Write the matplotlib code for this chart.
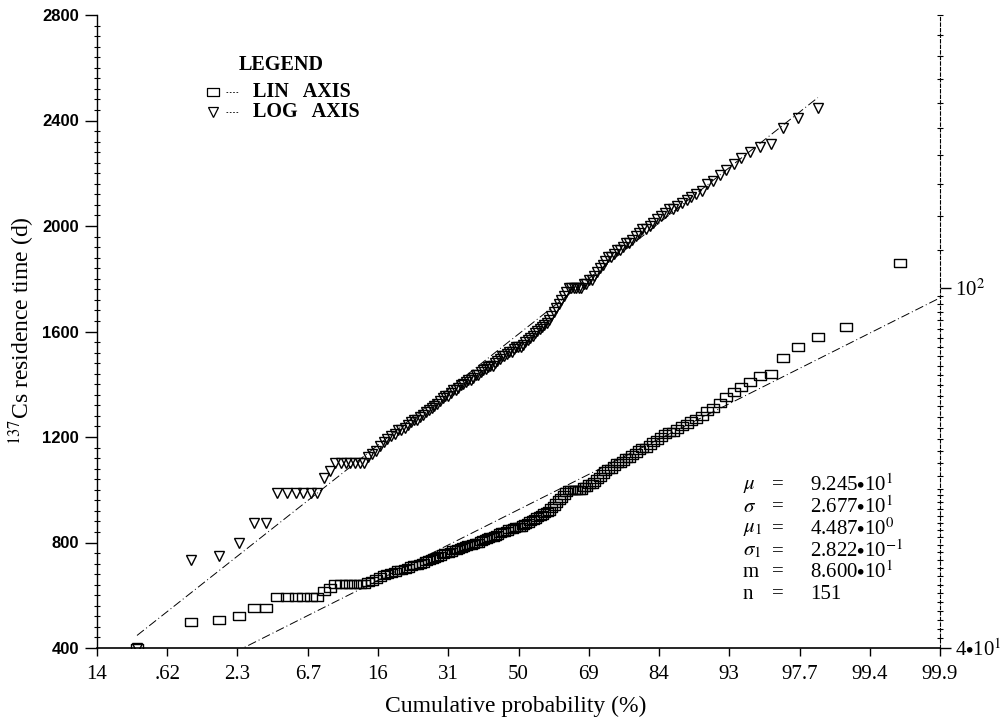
from statistics import NormalDist
import numpy as np
import matplotlib
matplotlib.use("Agg")
import matplotlib.pyplot as plt

plt.rcParams["font.family"] = ["Liberation Serif", "DejaVu Serif"]
plt.rcParams["mathtext.fontset"] = "stix"

# sorted residence times (same sample on both axes)
residence = [
    40.0, 50.0, 50.6, 52.2, 55.0, 55.0,
    59.3, 59.3, 59.3, 59.3, 59.3, 59.3, 61.7, 62.8,
    64.1, 64.1, 64.1, 64.1, 64.1, 64.1, 64.1,
    65.0, 65.5, 66.0, 66.8, 67.5, 68.0, 68.5, 69.0, 69.6, 69.6,
    70.0, 70.5, 71.0, 71.4, 71.4,
    72.0, 72.4, 72.8, 73.2, 73.6, 74.0, 74.4, 75.0, 75.5,
    76.0, 76.0, 76.5, 77.0, 77.0, 77.5, 78.0,
    78.3, 78.6, 79.0, 79.0, 79.5, 80.0, 80.0, 80.6,
    81.0, 81.4, 81.8, 82.0, 82.0, 82.6, 83.0,
    83.5, 84.0, 84.0, 84.5, 85.0, 85.0, 85.6,
    86.0, 86.0, 86.0, 86.5, 87.0, 87.5, 88.0, 88.4,
    89.0, 89.5, 90.0, 90.5, 91.0, 91.5,
    92.0, 93.0, 94.0, 95.0, 96.0, 97.0, 98.0, 99.0,
    100.0, 100.0, 100.0, 100.0, 100.0, 100.0, 101.0, 101.0, 102.0, 102.0,
    103.0, 104.0, 105.0, 106.0,
    107.0, 108.0, 108.0, 109.0, 110.0, 110.0, 111.0, 112.0, 112.0, 113.0, 114.0,
    115.0, 116.0, 116.0, 117.0, 118.0, 119.0, 120.0,
    121.0, 122.0, 122.0, 123.0, 124.0, 125.0, 126.0, 127.0, 128.0,
    130.0, 131.0, 133.0, 135.0, 137.0, 139.0, 141.0,
    143.0, 144.0, 150.0, 154.0, 158.0, 161.7, 185.9,
]
LOG_SHOWN = 149  # the two largest values are not drawn on the log axis

# fitted parameters printed on the chart
MU, SIGMA = 92.45, 26.77
MU1, SIGMA1 = 4.487, 0.2822

# probability ticks (labelled as in the original) sit at every half sigma
z_ticks = [-3, -2.5, -2, -1.5, -1, -0.5, 0, 0.5, 1, 1.5, 2, 2.5, 3]
x_labels = ["14", ".62", "2.3", "6.7", "16", "31", "50", "69", "84", "93",
            "97.7", "99.4", "99.9"]
lin_ticks = [40, 80, 120, 160, 200, 240, 280]
lin_labels = ["400", "800", "1200", "1600", "2000", "2400", "2800"]
log_ticks = [40, 100]
log_labels = [r"4$\bullet$10$^{1}$", r"10$^{2}$"]

stats = [
    (r"$\mu$", r"9.245$\bullet$10$^{1}$"),
    (r"$\sigma$", r"2.677$\bullet$10$^{1}$"),
    (r"$\mu_{1}$", r"4.487$\bullet$10$^{0}$"),
    (r"$\sigma_{1}$", r"2.822$\bullet$10$^{-1}$"),
    ("m", r"8.600$\bullet$10$^{1}$"),
    ("n", "151"),
]

ND = NormalDist()
_ppf = np.vectorize(lambda p: ND.inv_cdf(min(max(p, 1e-9), 1 - 1e-9)), otypes=[float])
_cdf = np.vectorize(ND.cdf, otypes=[float])


def to_z(pct):
    return _ppf(np.asarray(pct, dtype=float) / 100.0)


def from_z(z):
    return _cdf(np.asarray(z, dtype=float)) * 100.0


# wide, flat box used for the linear-axis points
BOX = [(-1, -0.65), (1, -0.65), (1, 0.65), (-1, 0.65), (-1, -0.65)]

n = len(residence)
res = np.array(residence)
cum_pct = (np.arange(1, n + 1) - 0.5) / n * 100.0

fig = plt.figure(figsize=(10.02, 7.19), dpi=100)
ax = fig.add_axes([97 / 1002, 1 - 648 / 719, 843 / 1002, 633 / 719])
ax.set_xscale("function", functions=(to_z, from_z))
ax.set_xlim(from_z(-3), from_z(3))
ax.set_ylim(40, 280)

# linear axis: boxes + normal fit
ax.plot(cum_pct, res, marker=BOX, ls="none", ms=8, mfc="none", mec="black",
        mew=1.0, zorder=3)
zz = np.linspace(float(to_z(cum_pct[0])), 3.0, 300)
ax.plot(from_z(zz), MU + SIGMA * zz, color="black", lw=0.7,
        ls=(0, (9, 3, 1, 3)), zorder=2)

# log axis: triangles + lognormal fit
ax2 = ax.twinx()
ax2.set_yscale("log")
ax2.set_ylim(40, 200)
ax2.plot(cum_pct[:LOG_SHOWN], res[:LOG_SHOWN], "v", ms=6.5, mfc="none",
         mec="black", mew=1.0, zorder=3)
zz2 = np.linspace(float(to_z(cum_pct[0])), float(to_z(cum_pct[LOG_SHOWN - 1])), 300)
ax2.plot(from_z(zz2), np.exp(MU1 + SIGMA1 * zz2), color="black", lw=0.7,
         ls=(0, (9, 3, 1, 3)), zorder=2)

# x axis
ax.set_xticks(from_z(z_ticks))
ax.set_xticklabels(x_labels, fontsize=15)
ax.xaxis.set_minor_locator(matplotlib.ticker.NullLocator())
ax.tick_params(axis="x", direction="out", length=6, width=1, pad=6)

# left linear axis
ax.set_yticks(lin_ticks)
ax.set_yticklabels(lin_labels, fontsize=12, family="Liberation Sans", weight="bold")
ax.set_yticks(np.arange(40, 281, 4), minor=True)
ax.tick_params(axis="y", which="major", direction="out", length=9, width=1, pad=4)
ax.tick_params(axis="y", which="minor", direction="inout", length=4, width=0.8)

# right log axis
ax2.set_yticks(log_ticks)
ax2.set_yticklabels(log_labels, fontsize=15)
minor_log = list(range(41, 60)) + list(range(60, 100, 2)) + list(range(110, 201, 10))
ax2.set_yticks(minor_log, minor=True)
ax2.yaxis.set_minor_formatter(matplotlib.ticker.NullFormatter())
ax2.tick_params(axis="y", which="major", direction="out", length=8, width=1, pad=3)
ax2.tick_params(axis="y", which="minor", direction="inout", length=4, width=0.8)

for a in (ax, ax2):
    a.spines["top"].set_visible(False)
    a.set_facecolor("none")
ax2.spines["left"].set_visible(False)
ax2.spines["bottom"].set_visible(False)
ax2.spines["right"].set_linestyle((0, (3, 2)))
ax.spines["right"].set_visible(False)
ax.spines["left"].set_linewidth(1.0)
ax.spines["bottom"].set_linewidth(1.2)

# axis titles
fig.text(22 / 1002, 1 - 331 / 719, r"$^{137}$Cs residence time (d)", rotation=90,
         ha="center", va="center", fontsize=17)
fig.text(516 / 1002, 1 - 706 / 719, "Cumulative probability (%)",
         ha="center", va="center", fontsize=17)

# hand-drawn legend block
ax.text(0.218, 0.921, "LEGEND", transform=ax.transAxes, ha="center", va="center",
        fontsize=14.5, weight="bold")
for yy, mk, ms, lab in [(0.878, BOX, 8, "LIN   AXIS"), (0.847, "v", 6.5, "LOG   AXIS")]:
    ax.plot([0.138], [yy], marker=mk, ls="none", transform=ax.transAxes, ms=ms,
            mfc="none", mec="black", mew=0.9, clip_on=False)
    ax.plot([0.153, 0.168], [yy, yy], transform=ax.transAxes, color="black",
            lw=0.6, ls=(0, (2, 2)), clip_on=False)
    ax.text(0.185, yy, lab, transform=ax.transAxes, ha="left", va="center",
            fontsize=14.5, weight="bold")

# fit statistics
row_y = [0.2575, 0.2227, 0.188, 0.153, 0.120, 0.0853]
for (sym, val), yy in zip(stats, row_y):
    ax.text(0.766, yy, sym, transform=ax.transAxes, ha="left", va="center", fontsize=15)
    ax.text(0.808, yy, "=", transform=ax.transAxes, ha="center", va="center", fontsize=15)
    ax.text(0.846, yy, val, transform=ax.transAxes, ha="left", va="center", fontsize=15)

fig.savefig("out.png", dpi=100)
